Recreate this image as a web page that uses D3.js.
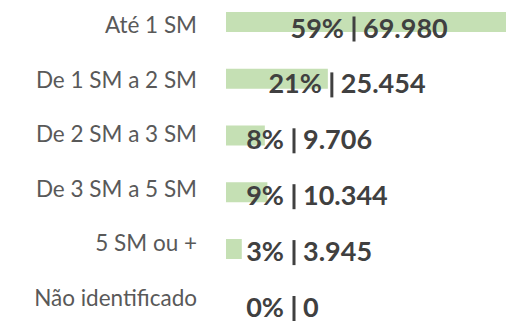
<!DOCTYPE html>
<html>
<head>
<meta charset="utf-8">
<script src="https://cdn.jsdelivr.net/npm/d3@7"></script>
<style>
  html, body { margin: 0; padding: 0; background: #ffffff; }
  svg { display: block; }
</style>
</head>
<body>
<svg id="chart" width="506" height="323"></svg>
<script>
// Faixas de renda (salários mínimos) e número de pessoas em cada faixa
const categories = ["Até 1 SM", "De 1 SM a 2 SM", "De 2 SM a 3 SM", "De 3 SM a 5 SM", "5 SM ou +", "Não identificado"];
const values = [69980, 25454, 9706, 10344, 3945, 0];

const W = 506, H = 323;
const total = d3.sum(values);
const rows = categories.map((c, i) => ({ cat: c, v: values[i], p: values[i] / total }));

const ptBR = d3.formatLocale({ decimal: ",", thousands: ".", grouping: [3], currency: ["R$", ""] });
const fmtNum = ptBR.format(",d");
const fmtPct = d3.format(".0%");

const x0 = 226;
const x = d3.scaleLinear().domain([0, d3.max(values)]).range([x0, W]);

// Linhas das barras
const yBar = d3.scaleBand().domain(categories).range([12, 315.75]).paddingInner(0.6476).paddingOuter(0);
// Linhas de base dos rótulos das categorias e dos rótulos de valor
const yCat = d3.scalePoint().domain(categories).range([33, 306]);
const yVal = d3.scalePoint().domain(categories).range([37.5, 317]);

const svg = d3.select("#chart");
const font = "Lato, 'Open Sans', sans-serif";

// Barras
svg.append("g").selectAll("rect").data(rows).join("rect")
  .attr("x", x0)
  .attr("y", d => yBar(d.cat))
  .attr("width", d => x(d.v) - x0)
  .attr("height", yBar.bandwidth())
  .attr("fill", "#c5e0b4");

// Rótulos das categorias
svg.append("g").selectAll("text").data(rows).join("text")
  .attr("x", 197)
  .attr("y", d => yCat(d.cat))
  .attr("text-anchor", "end")
  .attr("font-family", font)
  .attr("font-size", 22.5)
  .attr("fill", "#595959")
  .text(d => d.cat);

// Rótulos de valor: "pct | número"; o separador acompanha o fim da barra dentro de uma faixa
const sepX = d => Math.max(x0 + 68, Math.min(x(d.v) + 4, x0 + 128));
const vals = svg.append("g").selectAll("g").data(rows).join("g")
  .attr("transform", d => `translate(${sepX(d)},${yVal(d.cat)})`);

vals.append("text")
  .attr("x", -10)
  .attr("y", 0)
  .attr("text-anchor", "end")
  .attr("font-family", font)
  .attr("font-weight", 700)
  .attr("font-size", 27)
  .attr("fill", "#404040")
  .text(d => fmtPct(d.p));

vals.append("rect")
  .attr("x", -1.5)
  .attr("y", -21)
  .attr("width", 3)
  .attr("height", 25)
  .attr("fill", "#404040");

vals.append("text")
  .attr("x", 9)
  .attr("y", 0)
  .attr("text-anchor", "start")
  .attr("font-family", font)
  .attr("font-weight", 700)
  .attr("font-size", 27)
  .attr("fill", "#404040")
  .text(d => fmtNum(d.v));
</script>
</body>
</html>
